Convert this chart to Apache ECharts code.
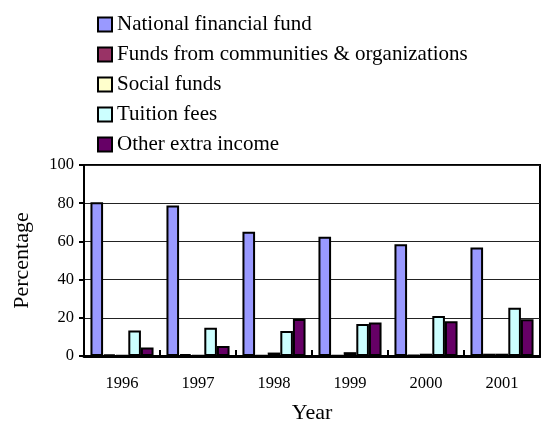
<!DOCTYPE html>
<html>
<head>
<meta charset="utf-8">
<script src="https://cdn.jsdelivr.net/npm/echarts@6/dist/echarts.min.js"></script>
<style>html,body{margin:0;padding:0;background:#fff}#c{width:541px;height:421px}</style>
</head>
<body>
<div id="c"></div>
<script>
const years = ['1996', '1997', '1998', '1999', '2000', '2001'];
const seriesNames = ['National financial fund', 'Funds from communities & organizations', 'Social funds', 'Tuition fees', 'Other extra income'];
const national = [80.5, 78.8, 65.0, 62.5, 58.5, 56.8];
const communities = [0.8, 1.0, 0.3, 0.3, 0.5, 1.2];
const social = [0.3, 0.3, 1.8, 2.0, 1.2, 1.2];
const tuition = [13.3, 14.8, 13.1, 16.8, 21.0, 25.3];
const otherIncome = [4.5, 5.2, 19.4, 17.5, 18.2, 19.2];
const yTicks = [0, 20, 40, 60, 80, 100];

const colors = ['#9999FF', '#993366', '#FFFFCC', '#CCFFFF', '#660066'];
const dataSets = [national, communities, social, tuition, otherIncome];
const serif = 'Liberation Serif, Times New Roman, serif';

const chart = echarts.init(document.getElementById('c'), null, {renderer: 'canvas'});
chart.setOption({
  animation: false,
  color: colors,
  textStyle: {fontFamily: serif, color: '#000'},
  legend: {
    orient: 'vertical',
    left: 92,
    top: 9,
    itemWidth: 14,
    itemHeight: 14,
    itemGap: 9,
    icon: 'rect',
    textStyle: {fontFamily: serif, fontSize: 21, color: '#000'},
    itemStyle: {borderColor: '#000', borderWidth: 2},
    data: seriesNames
  },
  grid: {left: 84, top: 165, right: 1, bottom: 65, outerBoundsMode: 'none', containLabel: false, show: true, borderColor: '#000', borderWidth: 2, backgroundColor: 'transparent'},
  xAxis: {
    type: 'category',
    data: years,
    name: 'Year',
    nameLocation: 'middle',
    nameGap: 46,
    nameTextStyle: {fontFamily: serif, fontSize: 22, color: '#000'},
    axisLine: {lineStyle: {color: '#000', width: 3}},
    axisTick: {show: true, inside: true, length: 6, lineStyle: {color: '#000', width: 2}},
    axisLabel: {fontFamily: serif, fontSize: 16.5, color: '#000', margin: 19}
  },
  yAxis: {
    type: 'value',
    min: yTicks[0],
    max: yTicks[yTicks.length - 1],
    interval: 20,
    name: 'Percentage',
    nameLocation: 'middle',
    nameGap: 51,
    nameRotate: 90,
    nameTextStyle: {fontFamily: serif, fontSize: 22, color: '#000'},
    axisLine: {show: true, lineStyle: {color: '#000', width: 2}},
    axisTick: {show: true, length: 5, lineStyle: {color: '#000', width: 2}},
    axisLabel: {fontFamily: serif, fontSize: 16.5, color: '#000', margin: 10},
    splitLine: {show: true, lineStyle: {color: '#222', width: 1}}
  },
  series: seriesNames.map((n, i) => ({
    name: n,
    type: 'bar',
    data: dataSets[i],
    barGap: '0%',
    barCategoryGap: '17%',
    itemStyle: {color: colors[i], borderColor: '#000', borderWidth: 2}
  }))
});
</script>
</body>
</html>
